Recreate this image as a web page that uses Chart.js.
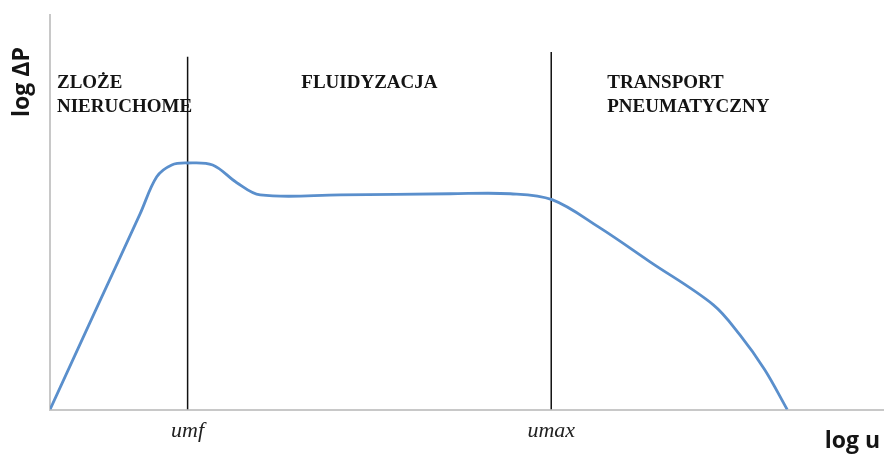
<!DOCTYPE html>
<html lang="pl">
<head>
<meta charset="utf-8">
<title>log ΔP – log u</title>
<script src="https://cdn.jsdelivr.net/npm/chart.js@4/dist/chart.umd.min.js"></script>
<style>
    html, body { margin: 0; padding: 0; background: #ffffff; }
    canvas { display: block; }
</style>
</head>
<body>
<canvas id="fluidChart" width="884" height="455"></canvas>
<script>
// log u (arbitrary units, 0-100)
const logU = [0, 6.0, 10.8, 12.8, 14.6, 16.4, 19.5, 22.4, 25.2, 34.8, 48.0, 55.2, 60.2, 65.9, 71.9, 79.5, 82.7, 85.7, 88.4];
// log ΔP (arbitrary units, 0-100)
const logDP = [0, 27.6, 49.6, 59.0, 62.0, 62.5, 62.0, 57.5, 54.4, 54.4, 54.7, 54.7, 53.2, 46.1, 37.5, 26.6, 19.0, 10.1, 0];

// characteristic velocities (vertical lines)
const markerValues = [16.5, 60.1];
const markerTops = [89.4, 90.6];
const markerLabels = ['umf', 'umax'];

// region captions
const regionBed = ['ZLOŻE', 'NIERUCHOME'];
const regionFluid = ['FLUIDYZACJA'];
const regionTransport = ['TRANSPORT', 'PNEUMATYCZNY'];

const axisTitleY = 'log ΔP';
const axisTitleX = 'log u';

document.addEventListener('DOMContentLoaded', function() {
    const curve = logU.map(function(u, i) { return { x: u, y: logDP[i] }; });

    const markerSets = markerValues.map(function(v, i) {
        return {
            data: [{ x: v, y: 0 }, { x: v, y: markerTops[i] }],
            borderColor: '#111111',
            borderWidth: 1.5,
            pointRadius: 0,
            tension: 0,
            fill: false
        };
    });

    // captions and axis titles
    const textPlugin = {
        id: 'textPlugin',
        afterDraw: function(chart) {
            const ctx = chart.ctx;
            const area = chart.chartArea;
            const xs = chart.scales.x;
            const umf = xs.getPixelForValue(markerValues[0]);
            const umax = xs.getPixelForValue(markerValues[1]);
            ctx.save();
            ctx.fillStyle = '#141414';
            ctx.textBaseline = 'alphabetic';
            ctx.font = 'bold 19px "Liberation Serif"';

            ctx.textAlign = 'left';
            regionBed.forEach(function(t, i) {
                ctx.fillText(t, area.left + 7, area.top + 73 + i * 24);
            });
            ctx.textAlign = 'center';
            regionFluid.forEach(function(t, i) {
                ctx.fillText(t, (umf + umax) / 2, area.top + 73 + i * 24);
            });
            ctx.textAlign = 'left';
            regionTransport.forEach(function(t, i) {
                ctx.fillText(t, umax + 56, area.top + 73 + i * 24);
            });

            ctx.font = 'bold 23px "Open Sans"';
            ctx.textAlign = 'right';
            ctx.fillText(axisTitleX, chart.width - 4, 448);

            ctx.translate(29, 82);
            ctx.rotate(-Math.PI / 2);
            ctx.textAlign = 'center';
            ctx.fillText(axisTitleY, 0, 0);
            ctx.restore();
        }
    };

    const ctx = document.getElementById('fluidChart').getContext('2d');
    const fluidChart = new Chart(ctx, {
        type: 'line',
        data: {
            datasets: [{
                data: curve,
                borderColor: '#5a8fcc',
                borderWidth: 2.8,
                pointRadius: 0,
                fill: false,
                tension: 0.35
            }].concat(markerSets)
        },
        options: {
            responsive: false,
            animation: false,
            layout: {
                padding: { left: 50, right: 0, top: 15, bottom: 3 }
            },
            scales: {
                x: {
                    type: 'linear',
                    min: 0,
                    max: 100,
                    grid: { display: false, drawTicks: false },
                    border: { display: true, color: '#c8c8c8', width: 2 },
                    afterBuildTicks: function(axis) {
                        axis.ticks = markerValues.map(function(v) { return { value: v }; });
                    },
                    ticks: {
                        autoSkip: false,
                        maxRotation: 0,
                        padding: 8,
                        color: '#222222',
                        font: { family: 'Liberation Serif', size: 22, style: 'italic' },
                        callback: function(value, index) { return markerLabels[index]; }
                    }
                },
                y: {
                    type: 'linear',
                    min: 0,
                    max: 100,
                    grid: { display: false, drawTicks: false },
                    border: { display: true, color: '#c8c8c8', width: 2 },
                    ticks: { display: false }
                }
            },
            plugins: {
                legend: { display: false },
                title: { display: false },
                tooltip: { enabled: false }
            }
        },
        plugins: [textPlugin]
    });
});
</script>
</body>
</html>
